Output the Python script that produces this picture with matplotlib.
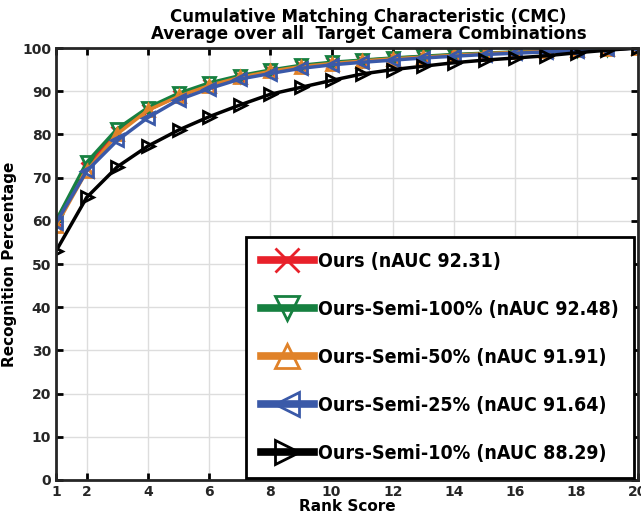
import numpy as np
import matplotlib
matplotlib.use("Agg")
import matplotlib.pyplot as plt
from matplotlib import font_manager

rank = list(range(1, 21))

ours = [60.0, 72.3, 80.6, 85.6, 89.0, 91.5, 93.3, 94.7, 95.8, 96.5,
        97.1, 97.6, 98.0, 98.4, 98.7, 99.0, 99.3, 99.5, 99.8, 100.0]
semi_100 = [60.0, 73.5, 81.3, 86.2, 89.5, 91.9, 93.6, 94.9, 96.0, 96.7,
            97.2, 97.7, 98.1, 98.5, 98.8, 99.1, 99.3, 99.5, 99.8, 100.0]
semi_50 = [58.8, 71.5, 80.1, 85.6, 88.8, 91.3, 93.2, 94.6, 95.7, 96.4,
           97.0, 97.5, 97.9, 98.3, 98.7, 99.0, 99.2, 99.5, 99.8, 100.0]
semi_25 = [59.5, 71.5, 78.6, 83.9, 88.0, 90.6, 92.8, 94.1, 95.3, 96.1,
           96.7, 97.2, 97.7, 98.1, 98.5, 98.8, 99.1, 99.4, 99.7, 100.0]
semi_10 = [53.0, 65.4, 72.5, 77.3, 81.0, 84.1, 86.8, 89.3, 90.9, 92.5,
           94.0, 95.0, 95.8, 96.6, 97.2, 97.7, 98.2, 98.9, 99.5, 100.0]

labels = ["Ours (nAUC 92.31)", "Ours-Semi-100% (nAUC 92.48)",
          "Ours-Semi-50% (nAUC 91.91)", "Ours-Semi-25% (nAUC 91.64)",
          "Ours-Semi-10% (nAUC 88.29)"]
colors = ["#e8212a", "#168040", "#e08229", "#3a59a8", "#000000"]
markers = ["x", "v", "^", "<", ">"]
xticks = [1, 2, 4, 6, 8, 10, 12, 14, 16, 18, 20]

# look for a narrow bold font for the legend (like Arial Narrow)
narrow = None
for f in font_manager.fontManager.ttflist:
    n = f.name.lower()
    if ("narrow" in n or "condensed" in n or f.stretch in ("condensed", "semi-condensed")) \
            and f.weight in ("bold", 700, "heavy"):
        narrow = f.fname
        break

if narrow:
    leg_prop = font_manager.FontProperties(fname=narrow, size=14)
else:
    leg_prop = font_manager.FontProperties(family="Liberation Sans", weight="bold", size=13)

fig = plt.figure(figsize=(6.41, 5.22), dpi=100)
ax = fig.add_axes([0.0874, 0.0805, 0.9076, 0.8275])

series = [ours, semi_100, semi_50, semi_25, semi_10]
for vals, lab, c, m in zip(series, labels, colors, markers):
    ax.plot(rank, vals, color=c, marker=m, markersize=8, markerfacecolor="none",
            markeredgewidth=2, linewidth=2.5, label=lab)

ax.set_xlim(1, 20)
ax.set_ylim(0, 100)
ax.set_xticks(xticks)
ax.set_yticks(range(0, 101, 10))
ax.grid(True, color="#dddddd", linewidth=1)
ax.tick_params(direction="in", top=True, right=True, length=5, width=2,
               labelsize=10)
for t in ax.get_xticklabels() + ax.get_yticklabels():
    t.set_fontweight("bold")
    t.set_color("#262626")
for s in ax.spines.values():
    s.set_linewidth(2)
    s.set_color("#262626")

ax.set_xlabel("Rank Score", fontsize=11, fontweight="bold", labelpad=0)
ax.set_ylabel("Recognition Percentage", fontsize=11, fontweight="bold", labelpad=4)
fig.text(0.575, 0.967, "Cumulative Matching Characteristic (CMC)", ha="center",
         va="center", fontsize=12, fontweight="bold")
fig.text(0.575, 0.935, "Average over all  Target Camera Combinations", ha="center",
         va="center", fontsize=12, fontweight="bold")

leg = ax.legend(loc="lower right", bbox_to_anchor=(0.993, 0.005),
                borderaxespad=0, prop=leg_prop,
                frameon=True, fancybox=False, edgecolor="black",
                handlelength=2.7, handletextpad=0.25, labelspacing=1.5,
                borderpad=0.75, markerscale=2.1)
leg.get_frame().set_linewidth(2)
leg.get_frame().set_alpha(1)
for ln in leg.get_lines():
    ln.set_linewidth(5.5)

fig.savefig("out.png", dpi=100)
